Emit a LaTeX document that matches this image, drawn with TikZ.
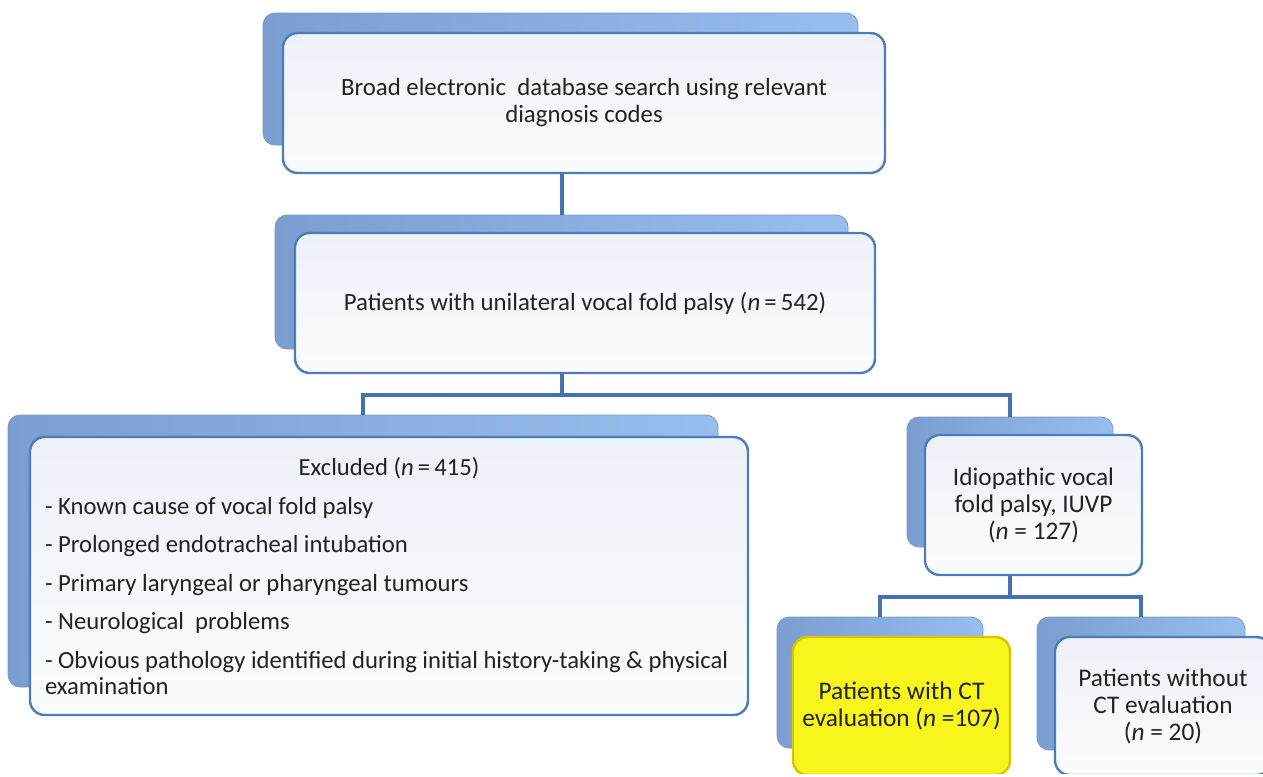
\documentclass[tikz,border=0pt]{standalone}
\usepackage{fontspec}
\setmainfont{Carlito}
\usetikzlibrary{positioning}

\definecolor{frame}{HTML}{4A7EBB}
\definecolor{paneltop}{HTML}{EDF1F8}
\definecolor{panelbot}{HTML}{FBFCFE}
\definecolor{backleft}{HTML}{7B9DCF}
\definecolor{backright}{HTML}{97BEEE}
\definecolor{backline}{HTML}{7A9AC6}
\definecolor{linkblue}{HTML}{4373B0}
\definecolor{ink}{HTML}{222222}
\definecolor{marker}{HTML}{F7F51C}
\definecolor{markerline}{HTML}{D6C600}

\begin{document}
\begin{tikzpicture}[
    x=0.75pt, y=-0.75pt,
    box/.style={draw=frame, line width=1.8pt, rounded corners=11pt,
        top color=paneltop, bottom color=panelbot, text=ink,
        font=\fontsize{18.6}{20.25}\selectfont, align=center, inner sep=0pt},
    smallbox/.style={box, font=\fontsize{19}{20.25}\selectfont},
    backbox/.style={draw=backline, line width=0.6pt, rounded corners=9pt,
        left color=backleft, right color=backright, inner sep=0pt},
    hilite/.style={draw=markerline, top color=marker, bottom color=marker},
    link/.style={draw=linkblue, line width=3pt}
]

    \useasboundingbox (0,0) rectangle (1263,776);
    \clip (0,0) rectangle (1263,773);

    % Back panels
    \node[backbox, minimum width=446.25pt, minimum height=99pt] (b1back) at (560.5,79) {};
    \node[backbox, minimum width=429.75pt, minimum height=100.5pt] (b2back) at (561.5,282) {};
    \node[backbox, minimum width=532.5pt, minimum height=204pt] (b3back) at (363,551) {};
    \node[backbox, minimum width=154.5pt, minimum height=97.5pt] (b4back) at (1010,482) {};
    \node[backbox, minimum width=154.5pt, minimum height=98.25pt] (b5back) at (880,682.5) {};
    \node[backbox, minimum width=156pt, minimum height=99.75pt] (b6back) at (1141,683.5) {};

    % Front panels
    \node[box, minimum width=451.5pt, minimum height=105pt] (b1) at (584,103)
        {Broad electronic\ \ database search using relevant\\diagnosis codes};
    \node[box, minimum width=435pt, minimum height=105pt] (b2) at (585,303)
        {Patients with unilateral vocal fold palsy (\textit{n}\,=\,542)};
    \node[box, minimum width=538.5pt, minimum height=208.5pt, text width=516pt,
        align=flush left, font=\fontsize{18.5}{19.5}\selectfont] (b3) at (389,576)
        {\makebox[516pt][c]{Excluded (\textit{n}\,=\,415)}\\[9.4pt]
         - Known cause of vocal fold palsy\\[9.4pt]
         - Prolonged endotracheal intubation\\[9.4pt]
         - Primary laryngeal or pharyngeal tumours\\[9.4pt]
         - Neurological\ \ problems\\[9.4pt]
         - Obvious pathology identified during initial history-taking \& physical\\
         examination};
    \node[smallbox, minimum width=162.75pt, minimum height=105pt] (b4) at (1033.5,505)
        {Idiopathic vocal\\fold palsy, IUVP\\(\textit{n} = 127)};
    \node[smallbox, hilite, minimum width=162.75pt, minimum height=103.5pt] (b5) at (901.5,706)
        {Patients with CT\\evaluation (\textit{n} =107)};
    \node[smallbox, minimum width=162pt, minimum height=103.5pt] (b6) at (1163,706)
        {Patients without\\CT evaluation\\(\textit{n} = 20)};

    % Connectors
    \coordinate (split1) at (0,395);
    \coordinate (split2) at (0,597);
    \draw[link] (b2back.north |- b1.south) -- (b2back.north);
    \draw[link] (b2back.north |- b2.south) -- (b2back.north |- split1) -| (b3back.north);
    \draw[link] (b2back.north |- split1) -| (b4back.north);
    \draw[link] (b4back.north |- b4.south) -- (b4back.north |- split2) -| (b5back.north);
    \draw[link] (b4back.north |- split2) -| (b6back.north);

\end{tikzpicture}
\end{document}
